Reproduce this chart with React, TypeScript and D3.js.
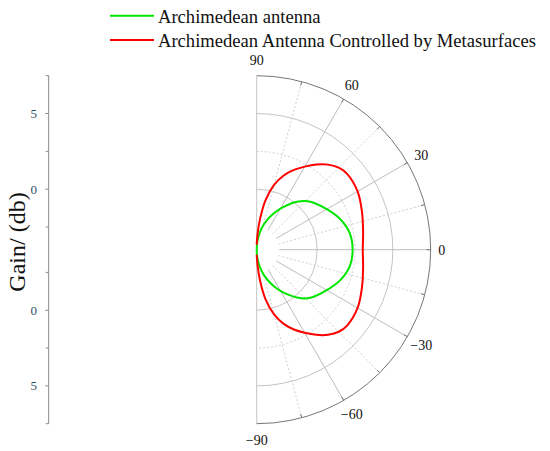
import React from "react";
import * as d3 from "d3";

const W = 550;
const H = 451;

// polar angles (degrees, 0 = right, + = up)
const angles = [-90, -87, -84, -80, -75, -70, -65, -60, -55, -50, -45, -40, -30, -20, -10, 0, 10, 20, 30, 40, 45, 50, 55, 60, 65, 70, 75, 80, 84, 87, 90];
// gain values (dB) per angle
const greenGain = [-4.0, -3.66, -3.33, -2.88, -2.35, -1.85, -1.36, -0.86, -0.37, 0.13, 0.56, 0.86, 1.35, 1.88, 2.25, 2.34, 2.25, 1.88, 1.35, 0.86, 0.56, 0.13, -0.37, -0.86, -1.36, -1.85, -2.35, -2.88, -3.33, -3.66, -4.0];
const redGain = [-3.67, -3.01, -2.02, -0.7, 0.43, 1.22, 1.82, 2.34, 2.87, 3.34, 3.67, 3.8, 3.7, 3.4, 3.14, 3.01, 3.14, 3.4, 3.7, 3.8, 3.67, 3.34, 2.87, 2.34, 1.82, 1.22, 0.43, -0.7, -2.02, -3.01, -3.67];

const seriesNames = ["Archimedean antenna", "Archimedean Antenna Controlled by Metasurfaces"];
const seriesColors = ["#00e600", "#ff0000"];

const angleTicks = [90, 60, 30, 0, -30, -60, -90];
const gridAngles = [-75, -60, -45, -30, -15, 0, 15, 30, 45, 60, 75];
const majorRings = [0, 5];
const minorRings = [2.5];
const radialDomain = [-4, 7.5];
const innerGridValue = -2.5;

// left gain axis
const leftMajorValues = [5, 0, 0, 5];
const leftMajorSides = [1, 1, -1, -1];
const leftMinorValues = [7.5, 2.5, -2.5, -2.5, 2.5, 7.5];
const leftMinorSides = [1, 1, 1, -1, -1, -1];

const cx = 256.7;
const cy = 249.7;
const R = 174;

export default function App() {
  const r = d3.scaleLinear().domain(radialDomain).range([0, R]);
  const rad = (deg: number) => (deg * Math.PI) / 180;
  const px = (deg: number, rr: number) => cx + rr * Math.cos(rad(deg));
  const py = (deg: number, rr: number) => cy - rr * Math.sin(rad(deg));

  const line = d3
    .lineRadial<[number, number]>()
    .angle((d) => rad(90 - d[0]))
    .radius((d) => r(d[1]))
    .curve(d3.curveCatmullRom.alpha(0.5));

  const greenPath = line(angles.map((a, i) => [a, greenGain[i]] as [number, number]));
  const redPath = line(angles.map((a, i) => [a, redGain[i]] as [number, number]));

  const semi = (rr: number) => `M${cx},${cy - rr} A${rr},${rr} 0 0 1 ${cx},${cy + rr}`;

  const r0 = r(innerGridValue);

  const axisX = 48.7;
  const yOf = (v: number, side: number) => cy - side * r(v);

  return (
    <svg width={W} height={H} style={{ position: "absolute", left: 0, top: 0, background: "#fff" }} fontFamily="'Liberation Serif', 'Times New Roman', serif">
      {/* legend */}
      {seriesNames.map((n, i) => (
        <g key={n}>
          <line x1={110} x2={154} y1={15.7 + i * 24.3} y2={15.7 + i * 24.3} stroke={seriesColors[i]} strokeWidth={2} />
          <text x={158} y={22.5 + i * 24.3} fontSize={18.6} fill="#111">{n}</text>
        </g>
      ))}

      {/* left gain axis */}
      <line x1={axisX} x2={axisX} y1={yOf(radialDomain[1], 1)} y2={yOf(radialDomain[1], -1)} stroke="#888" strokeWidth={1} />
      {leftMajorValues.map((v, i) => (
        <g key={"lm" + i}>
          <line x1={axisX - 3.5} x2={axisX} y1={yOf(v, leftMajorSides[i])} y2={yOf(v, leftMajorSides[i])} stroke="#888" />
          <text x={37} y={yOf(v, leftMajorSides[i])} dy="0.35em" textAnchor="end" fontSize={13} fill="#2f4f5f">{String(v)}</text>
        </g>
      ))}
      {leftMinorValues.map((v, i) => (
        <line key={"ln" + i} x1={axisX - 3} x2={axisX} y1={yOf(v, leftMinorSides[i])} y2={yOf(v, leftMinorSides[i])} stroke="#888" />
      ))}
      <text transform={`translate(25,242) rotate(-90)`} textAnchor="middle" fontSize={24} fill="#111">Gain/ (db)</text>

      {/* polar grid */}
      {minorRings.map((v) => (
        <path key={"mr" + v} d={semi(r(v))} fill="none" stroke="#d0d0d0" strokeWidth={1} strokeDasharray="2,2" />
      ))}
      {majorRings.map((v) => (
        <path key={"Mr" + v} d={semi(r(v))} fill="none" stroke="#c4c4c4" strokeWidth={1} />
      ))}
      {gridAngles.map((a) => {
        const major = a % 30 === 0;
        return (
          <line
            key={"ga" + a}
            x1={px(a, r0)}
            y1={py(a, r0)}
            x2={px(a, R)}
            y2={py(a, R)}
            stroke={major ? "#bdbdbd" : "#d0d0d0"}
            strokeWidth={1}
            strokeDasharray={major ? undefined : "2,2"}
          />
        );
      })}
      <line x1={cx} x2={cx} y1={cy - R} y2={cy + R} stroke="#c4c4c4" strokeWidth={1} />
      <path d={semi(R)} fill="none" stroke="#777" strokeWidth={1} />
      {gridAngles.map((a) => (
        <line key={"tk" + a} x1={px(a, R - 4)} y1={py(a, R - 4)} x2={px(a, R)} y2={py(a, R)} stroke="#777" strokeWidth={1} />
      ))}

      {/* angle labels */}
      {angleTicks.map((a) => {
        const lr = a === 0 ? 185 : 190;
        return (
          <text key={"al" + a} x={px(a, lr)} y={py(a, lr)} dy="0.35em" textAnchor="middle" fontSize={14} fill="#111">
            {a < 0 ? "\u2212" + Math.abs(a) : String(a)}
          </text>
        );
      })}

      {/* curves */}
      <g transform={`translate(${cx},${cy})`}>
        <path d={greenPath || ""} fill="none" stroke={seriesColors[0]} strokeWidth={2} />
        <path d={redPath || ""} fill="none" stroke={seriesColors[1]} strokeWidth={2} />
      </g>
    </svg>
  );
}
